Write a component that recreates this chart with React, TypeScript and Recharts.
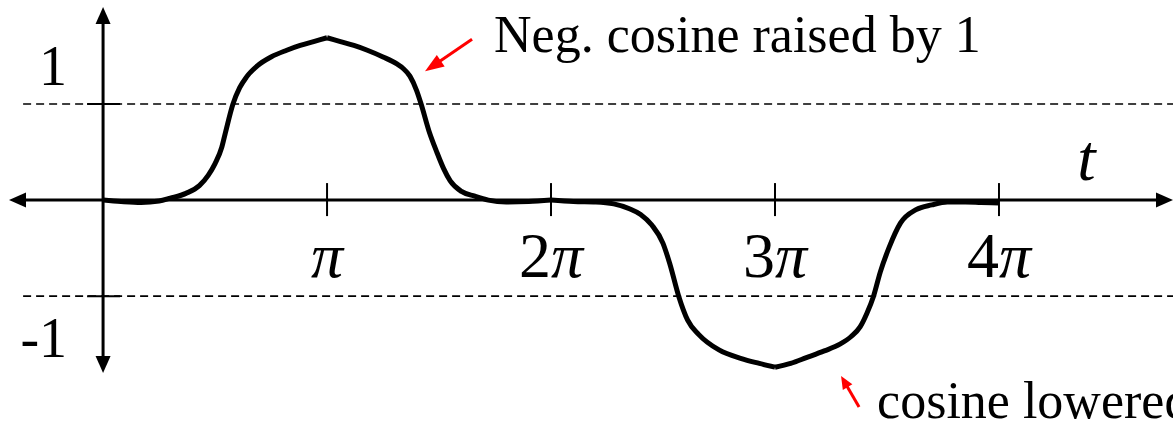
import React from 'react';
import { LineChart, Line, XAxis, YAxis, ReferenceLine, ReferenceDot } from 'recharts';

// curve samples, t in multiples of pi
const tValues = [
  0, 0.08, 0.17, 0.25, 0.3, 0.37, 0.43, 0.47, 0.5, 0.53, 0.545, 0.58, 0.61, 0.64, 0.69, 0.75, 0.82, 0.88, 0.94, 1.0,
  1.06, 1.12, 1.18, 1.25, 1.31, 1.34, 1.37, 1.4, 1.42, 1.455, 1.49, 1.52, 1.55, 1.6, 1.66, 1.72, 1.8, 1.9, 2.0,
  2.1, 2.2, 2.28, 2.35, 2.4, 2.45, 2.5, 2.53, 2.57, 2.61, 2.66, 2.75, 2.85, 2.93, 3.0,
  3.07, 3.14, 3.22, 3.29, 3.34, 3.38, 3.41, 3.44, 3.47, 3.51, 3.56, 3.63, 3.7, 3.77, 3.85, 3.92, 4.0,
];
const yValues = [
  0, -0.015, -0.025, -0.01, 0.02, 0.07, 0.15, 0.26, 0.38, 0.55, 0.69, 1.0, 1.17, 1.28, 1.4, 1.49, 1.56, 1.61, 1.65, 1.69,
  1.65, 1.61, 1.56, 1.49, 1.42, 1.37, 1.29, 1.14, 1.0, 0.72, 0.5, 0.33, 0.2, 0.09, 0.04, 0.0, -0.02, -0.015, 0,
  -0.015, -0.02, -0.04, -0.09, -0.15, -0.26, -0.45, -0.66, -1.0, -1.25, -1.4, -1.56, -1.65, -1.7, -1.74,
  -1.7, -1.64, -1.57, -1.5, -1.42, -1.32, -1.18, -1.0, -0.75, -0.49, -0.24, -0.1, -0.05, -0.02, -0.02, -0.025, -0.03,
];

// the curve has corners at each multiple of pi, so it is drawn in pieces
const pieceEdges = [0, 1, 2, 3, 4];

const xTicks = [1, 2, 3, 4];
const xTickLabels = ['π', '2π', '3π', '4π'];
const yTicks = [1, -1];
const yTickLabels = ['1', '-1'];
const notes = ['Neg. cosine raised by 1', 'cosine lowered by 1'];
const noteT = [1.4375, 3.295];
const noteV = [1.34, -1.83];

const pieceKeys = pieceEdges.slice(1).map((_, i) => `p${i}`);
const data = tValues.map((t, i) => {
  const row: Record<string, number | null> = { t };
  pieceKeys.forEach((k, j) => {
    row[k] = t >= pieceEdges[j] && t <= pieceEdges[j + 1] ? yValues[i] : null;
  });
  return row;
});

const SERIF = "'Liberation Serif', 'Times New Roman', serif";
const X_MIN = -0.42;
const X_MAX = 4.777;

// triangle with its tip at (x2, y2), pointing away from (x1, y1)
const arrowHead = (x1: number, y1: number, x2: number, y2: number, len: number, half: number) => {
  const a = Math.atan2(y2 - y1, x2 - x1);
  const bx = x2 - len * Math.cos(a);
  const by = y2 - len * Math.sin(a);
  const px = -Math.sin(a) * half;
  const py = Math.cos(a) * half;
  return `${x2},${y2} ${bx + px},${by + py} ${bx - px},${by - py}`;
};

const AxisShape = (props: any) => {
  const { x1, y1, x2, y2 } = props;
  const len = Math.hypot(x2 - x1, y2 - y1) || 1;
  const ux = (x2 - x1) / len;
  const uy = (y2 - y1) / len;
  const cut = 12;
  return (
    <g>
      <line x1={x1 + ux * cut} y1={y1 + uy * cut} x2={x2 - ux * cut} y2={y2 - uy * cut} stroke="#000" strokeWidth={3} />
      <polygon points={arrowHead(x2, y2, x1, y1, 17, 7.5)} fill="#000" />
      <polygon points={arrowHead(x1, y1, x2, y2, 17, 7.5)} fill="#000" />
    </g>
  );
};

const XTickShape = (label: string) => (props: any) => {
  const { cx, cy } = props;
  const num = label.replace('π', '');
  return (
    <g>
      <line x1={cx} y1={cy - 17} x2={cx} y2={cy + 16} stroke="#000" strokeWidth={2} />
      <text x={cx} y={cy + 77} textAnchor="middle" fontFamily={SERIF} fontSize={64} fill="#000">
        {num}
        <tspan fontStyle="italic">π</tspan>
      </text>
    </g>
  );
};

const YTickShape = (label: string, above: boolean) => (props: any) => {
  const { cx, cy } = props;
  return (
    <g>
      <line x1={cx - 16} y1={cy} x2={cx + 17} y2={cy} stroke="#000" strokeWidth={2} />
      <text x={cx - 36} y={above ? cy - 19 : cy + 61} textAnchor="end" fontFamily={SERIF} fontSize={56} fill="#000">
        {label}
      </text>
    </g>
  );
};

const NoteShape = (text: string, idx: number) => (props: any) => {
  const { cx, cy } = props;
  const tail = idx === 0 ? { dx: 47, dy: -32 } : { dx: 18, dy: 31 };
  const txt = idx === 0 ? { dx: 69, dy: -19 } : { dx: 36, dy: 42 };
  const head = idx === 0 ? { len: 19, half: 7 } : { len: 13, half: 5.5 };
  const tx = cx + tail.dx;
  const ty = cy + tail.dy;
  const a = Math.atan2(cy - ty, cx - tx);
  return (
    <g>
      <line x1={tx} y1={ty} x2={cx - Math.cos(a) * (head.len - 2)} y2={cy - Math.sin(a) * (head.len - 2)} stroke="#ff0000" strokeWidth={3} />
      <polygon points={arrowHead(tx, ty, cx, cy, head.len, head.half)} fill="#ff0000" />
      <text x={cx + txt.dx} y={cy + txt.dy} fontFamily={SERIF} fontSize={52} fill="#000">
        {text}
      </text>
    </g>
  );
};

const TLabel = (props: any) => {
  const { cx, cy } = props;
  return (
    <text x={cx} y={cy - 20} textAnchor="middle" fontFamily={SERIF} fontStyle="italic" fontSize={66} fill="#000">
      t
    </text>
  );
};

export default function App() {
  return (
    <div style={{ position: 'absolute', left: 0, top: 0, background: '#fff' }}>
      <LineChart width={1173} height={432} data={data} margin={{ top: 7, right: 0, bottom: 59, left: 9 }}>
        <XAxis type="number" dataKey="t" domain={[X_MIN, X_MAX]} allowDataOverflow hide />
        <YAxis type="number" domain={[-1.8, 2.01]} allowDataOverflow hide />
        <ReferenceLine
          segment={[{ x: -0.357, y: 1 }, { x: X_MAX, y: 1 }]}
          stroke="#000"
          strokeWidth={1.6}
          strokeDasharray="8 5"
          ifOverflow="visible"
        />
        <ReferenceLine
          segment={[{ x: -0.357, y: -1 }, { x: X_MAX, y: -1 }]}
          stroke="#000"
          strokeWidth={1.6}
          strokeDasharray="8 5"
          ifOverflow="visible"
        />
        <ReferenceLine y={0} shape={AxisShape} ifOverflow="visible" />
        <ReferenceLine x={0} shape={AxisShape} ifOverflow="visible" />
        {xTicks.map((t, i) => (
          <ReferenceDot key={`xt${t}`} x={t} y={0} r={0} shape={XTickShape(xTickLabels[i])} ifOverflow="visible" />
        ))}
        {yTicks.map((v, i) => (
          <ReferenceDot key={`yt${v}`} x={0} y={v} r={0} shape={YTickShape(yTickLabels[i], v > 0)} ifOverflow="visible" />
        ))}
        <ReferenceDot x={4.39} y={0} r={0} shape={TLabel} ifOverflow="visible" />
        {notes.map((n, i) => (
          <ReferenceDot key={n} x={noteT[i]} y={noteV[i]} r={0} shape={NoteShape(n, i)} ifOverflow="visible" />
        ))}
        {pieceKeys.map((k) => (
          <Line
            key={k}
            type="monotone"
            dataKey={k}
            stroke="#000"
            strokeWidth={5}
            strokeLinejoin="round"
            dot={false}
            activeDot={false}
            connectNulls={false}
            isAnimationActive={false}
          />
        ))}
      </LineChart>
    </div>
  );
}
